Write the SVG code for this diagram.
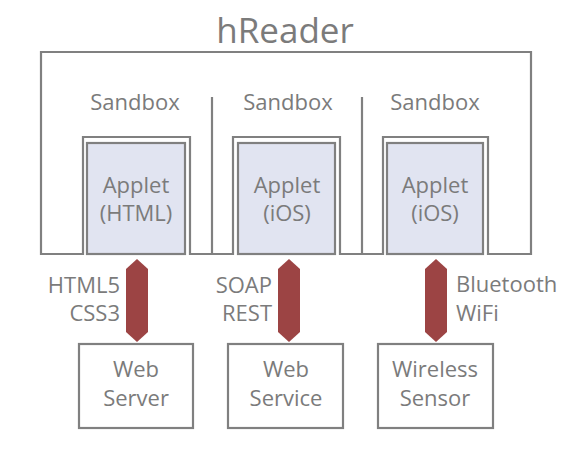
<svg xmlns="http://www.w3.org/2000/svg" width="571" height="449" viewBox="0 0 571 449">
<style>
text{font-family:"Open Sans","Liberation Sans",sans-serif;fill:#7b7b7b;font-size:22px}
.c{text-anchor:middle}
.line{fill:none;stroke:#808080;stroke-width:2.2}
.applet{fill:#e1e4f1;stroke:#808080;stroke-width:2.2}
.box{fill:#ffffff;stroke:#808080;stroke-width:2.2}
.arrow{fill:#9c4444}
</style>
<rect width="571" height="449" fill="#ffffff"/>
<g id="hreader">
<path class="line" d="M41,254 V52 H531 V254 H488 V137 H383 V254 H340 V137 H233 V254 H190 V137 H83 V254 Z"/>
<text class="c" x="285" y="43" style="font-size:35px">hReader</text>
</g>
<g id="sandbox1">
<text class="c" x="135" y="110">Sandbox</text>
</g>
<g id="sandbox2">
<path class="line" d="M212,97 V254"/>
<text class="c" x="288" y="110">Sandbox</text>
</g>
<g id="sandbox3">
<path class="line" d="M362,97 V254"/>
<text class="c" x="435" y="110">Sandbox</text>
</g>
<g id="applet1">
<rect class="applet" x="87" y="143" width="98" height="111"/>
<text class="c" x="136" y="193">Applet</text>
<text class="c" x="136" y="221">(HTML)</text>
</g>
<g id="applet2">
<rect class="applet" x="238" y="143" width="97" height="111"/>
<text class="c" x="287" y="193">Applet</text>
<text class="c" x="287" y="221">(iOS)</text>
</g>
<g id="applet3">
<rect class="applet" x="387" y="143" width="96" height="111"/>
<text class="c" x="435" y="193">Applet</text>
<text class="c" x="435" y="221">(iOS)</text>
</g>
<g id="webserver">
<rect class="box" x="79" y="344" width="114" height="84"/>
<text class="c" x="136" y="377">Web</text>
<text class="c" x="136" y="406">Server</text>
</g>
<g id="webservice">
<rect class="box" x="228" y="344" width="115" height="84"/>
<text class="c" x="286" y="377">Web</text>
<text class="c" x="286" y="406">Service</text>
</g>
<g id="wirelesssensor">
<rect class="box" x="378" y="344" width="115" height="84"/>
<text class="c" x="435" y="377">Wireless</text>
<text class="c" x="435" y="406">Sensor</text>
</g>
<g id="connectors">
<polygon class="arrow" points="137,259 148,269 148,332 137,342 126,332 126,269"/>
<polygon class="arrow" points="289,259 300,269 300,332 289,342 278,332 278,269"/>
<polygon class="arrow" points="436,259 447,269 447,332 436,342 425,332 425,269"/>
<text x="120" y="293" text-anchor="end">HTML5</text>
<text x="120" y="321" text-anchor="end">CSS3</text>
<text x="272" y="293" text-anchor="end">SOAP</text>
<text x="272" y="321" text-anchor="end">REST</text>
<text x="456" y="292">Bluetooth</text>
<text x="456" y="321">WiFi</text>
</g>
</svg>
